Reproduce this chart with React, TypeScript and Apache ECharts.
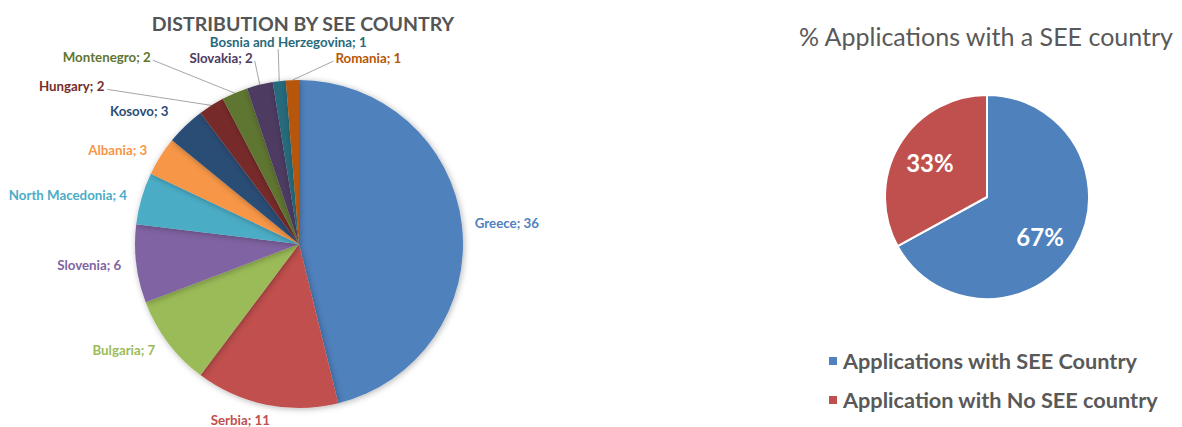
import React, { useEffect, useRef } from "react";
import * as echarts from "echarts";

const countries = [
  "Greece",
  "Serbia",
  "Bulgaria",
  "Slovenia",
  "North Macedonia",
  "Albania",
  "Kosovo",
  "Hungary",
  "Montenegro",
  "Slovakia",
  "Bosnia and Herzegovina",
  "Romania",
];
const countryValues = [36, 11, 7, 6, 4, 3, 3, 2, 2, 2, 1, 1];
const countryColors = [
  "#4F81BD",
  "#C0504D",
  "#9BBB59",
  "#8064A2",
  "#4BACC6",
  "#F79646",
  "#2C4D75",
  "#772C2A",
  "#5F7530",
  "#4D3B62",
  "#276A7C",
  "#B65708",
];

const shareNames = ["Applications with SEE Country", "Application with No SEE country"];
const shareValues = [67, 33];
const shareColors = ["#4F81BD", "#C0504D"];

// radial label distance for slices without leader lines
const labelDist = [10, 16, 12, 12, 12, 12, 20, 20, 20, 20, 20, 20];
// leader-line label placement for the thin slices, relative to the slice edge:
// [line end dx, line end dy, label dx, label dy, align]
const leaderOffsets: Record<number, [number, number, number, number, string]> = {
  7: [-104, -16, -107, -19, "right"],
  8: [-82, -33, -84, -36, "right"],
  9: [-5, -24, -7, -27, "right"],
  10: [-1, -32, 9, -39, "center"],
  11: [41, -19, 43, -22, "left"],
};

const FONT = "Lato, 'Open Sans', sans-serif";

export default function App() {
  const ref = useRef<HTMLDivElement>(null);
  useEffect(() => {
    if (!ref.current) return;
    const chart = echarts.init(ref.current, undefined, { renderer: "svg" });
    const leftData = countries.map((name, i) => ({
      name,
      value: countryValues[i],
      itemStyle: { color: countryColors[i] },
      label: { color: countryColors[i] },
      labelLine: { show: !!leaderOffsets[i], length: labelDist[i], length2: 0 },
    }));
    const rightData = shareNames.map((name, i) => ({
      name,
      value: shareValues[i],
      itemStyle: { color: shareColors[i] },
    }));
    chart.setOption({
      animation: false,
      title: [
        {
          text: "DISTRIBUTION BY SEE COUNTRY",
          left: 298,
          top: 8,
          textAlign: "center",
          textStyle: { fontFamily: FONT, fontSize: 19.5, fontWeight: "bold", color: "#555555" },
        },
        {
          text: "% Applications with a SEE country",
          left: 981,
          top: 18,
          textAlign: "center",
          textStyle: { fontFamily: FONT, fontSize: 25, fontWeight: "normal", color: "#595959" },
        },
      ],
      legend: {
        orient: "vertical",
        left: 822,
        top: 345,
        icon: "rect",
        itemWidth: 10,
        itemHeight: 10,
        itemGap: 17,
        textStyle: { fontFamily: FONT, fontSize: 21.7, fontWeight: "bold", color: "#595959" },
        data: shareNames.map((n, i) => ({ name: n, itemStyle: { color: shareColors[i] } })),
      },
      series: [
        {
          type: "pie",
          center: [299, 244],
          radius: 164,
          startAngle: 90,
          clockwise: true,
          avoidLabelOverlap: false,
          legendHoverLink: false,
          itemStyle: { shadowBlur: 6, shadowColor: "rgba(0,0,0,0.3)", shadowOffsetX: 1, shadowOffsetY: 1 },
          label: {
            show: true,
            position: "outside",
            formatter: "{b}; {c}",
            fontFamily: FONT,
            fontSize: 13.3,
            fontWeight: "bold",
            distanceToLabelLine: 3,
          },
          labelLine: { lineStyle: { color: "#A6A6A6", width: 1 } },
          labelLayout: (p: any) => {
            const o = leaderOffsets[p.dataIndex];
            if (!o || !p.labelLinePoints) {
              return p.dataIndex === 1 ? { dx: 10, hideOverlap: false } : { hideOverlap: false };
            }
            const a = p.labelLinePoints[0];
            const end = [a[0] + o[0], a[1] + o[1]];
            return {
              x: a[0] + o[2],
              y: a[1] + o[3],
              align: o[4],
              verticalAlign: "middle",
              hideOverlap: false,
              labelLinePoints: [
                [a[0], a[1]],
                [(a[0] + end[0]) / 2, (a[1] + end[1]) / 2],
                end,
              ],
            };
          },
          data: leftData,
        },
        {
          type: "pie",
          name: "share",
          center: [987, 197],
          radius: 102,
          startAngle: 90,
          clockwise: true,
          itemStyle: { borderColor: "#FFFFFF", borderWidth: 2 },
          label: { show: false },
          labelLine: { show: false },
          data: rightData,
        },
        {
          type: "pie",
          name: "shareLabels",
          center: [987, 197],
          radius: [34, 102],
          startAngle: 90,
          clockwise: true,
          silent: true,
          legendHoverLink: false,
          itemStyle: { color: "rgba(0,0,0,0)" },
          label: {
            show: true,
            position: "inside",
            formatter: "{c}%",
            fontFamily: FONT,
            fontSize: 24,
            fontWeight: "bold",
            color: "#FFFFFF",
          },
          labelLayout: (p: any) => (p.dataIndex === 0 ? { dx: -8, dy: 3 } : { dx: 4, dy: 2 }),
          labelLine: { show: false },
          data: shareNames.map((name, i) => ({ name, value: shareValues[i] })),
        },
      ],
    });
    return () => chart.dispose();
  }, []);
  return (
    <div
      ref={ref}
      style={{ position: "absolute", left: 0, top: 0, width: 1182, height: 427, background: "#fff" }}
    />
  );
}
